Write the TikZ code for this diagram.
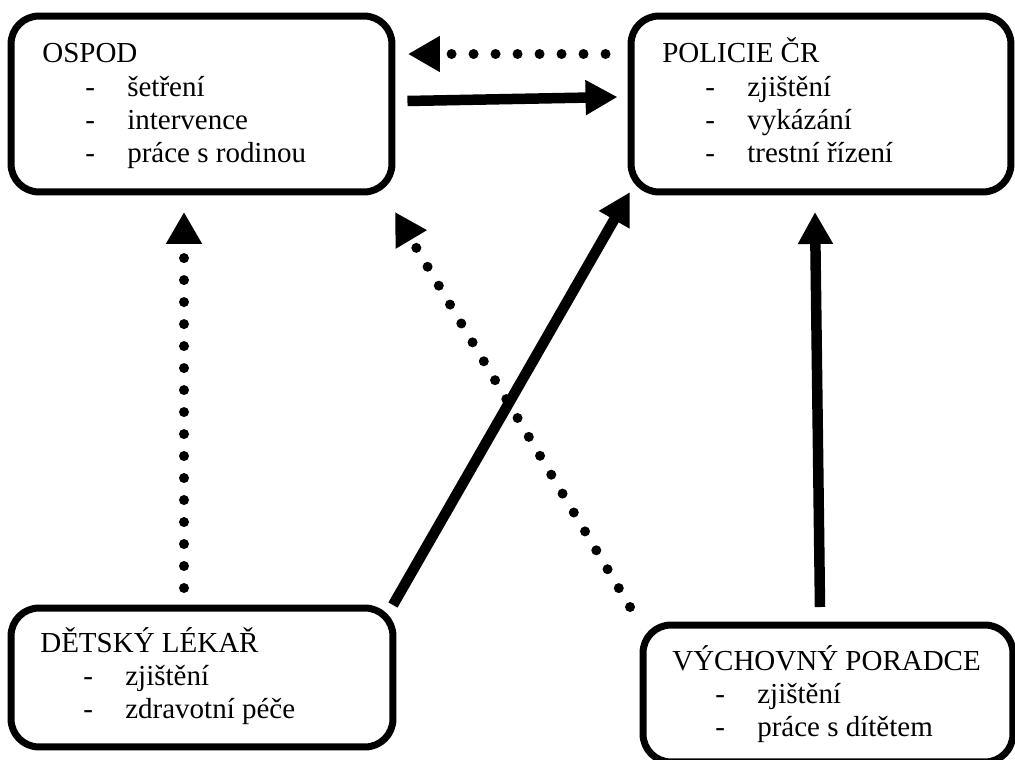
\documentclass[tikz,border=0pt]{standalone}
\usepackage{fontspec}
\setmainfont{Liberation Serif}
\usetikzlibrary{arrows.meta,positioning}

\newcommand{\polozka}[1]{\hspace*{0.86cm}\makebox[0.84cm][l]{-}#1}

\tikzset{
  box/.style={draw, line width=0.14cm, rounded corners=0.56cm, inner sep=0pt},
  popis/.style={anchor=base west, inner sep=0pt, font=\fontsize{16.5}{18.8}\selectfont},
  sipka/.style={line width=0.21cm, -{Triangle[length=0.64cm,width=0.66cm]}},
  tecky/.style={line width=0.2cm, line cap=round, dash pattern=on 0pt off 0.44cm,
    -{Triangle[length=0.64cm,width=0.68cm]}}
}

\begin{document}
\begin{tikzpicture}[x=0.02cm,y=-0.02cm]
    \useasboundingbox (0,0) rectangle (1015,760);
    \clip (0,0) rectangle (1015,760);
    % Boxes
    \node[box, minimum width=7.62cm, minimum height=3.52cm] (ospod) at (201.5,104) {};
    \node[box, minimum width=7.6cm, minimum height=3.52cm] (policie) at (821,104) {};
    \node[box, minimum width=7.64cm, minimum height=2.78cm] (lekar) at (202,677.5) {};
    \node[box, minimum width=7.4cm, minimum height=2.74cm] (poradce) at (828,693.5) {};
    % Texts
    \node[popis] (t_ospod) at (42,63) {\begin{tabular}[t]{@{}l@{}}OSPOD\\
        \polozka{šetření}\\ \polozka{intervence}\\ \polozka{práce s rodinou}\end{tabular}};
    \node[popis] (t_policie) at (662,63) {\begin{tabular}[t]{@{}l@{}}POLICIE ČR\\
        \polozka{zjištění}\\ \polozka{vykázání}\\ \polozka{trestní řízení}\end{tabular}};
    \node[popis] (t_lekar) at (40,652) {\begin{tabular}[t]{@{}l@{}}DĚTSKÝ LÉKAŘ\\
        \polozka{zjištění}\\ \polozka{zdravotní péče}\end{tabular}};
    \node[popis] (t_poradce) at (672,670) {\begin{tabular}[t]{@{}l@{}}VÝCHOVNÝ PORADCE\\
        \polozka{zjištění}\\ \polozka{práce s dítětem}\end{tabular}};
    % Arrows between the top boxes
    \draw[tecky] ([shift={(-22,-50)}]policie.west) -- ([shift={(12.5,-50)}]ospod.east);
    \draw[sipka] ([shift={(12,-3)}]ospod.east) -- ([shift={(-10,-7)}]policie.west);
    % Arrows from the bottom boxes
    \draw[tecky] ([shift={(-18,-16.5)}]lekar.north) -- ([shift={(-17.5,16.5)}]ospod.south);
    \draw[tecky] ([shift={(-9.5,-14.5)}]poradce.north west) -- ([shift={(-0.5,16.5)}]ospod.south east);
    \draw[sipka] ([shift={(-3.5,0.5)}]lekar.north east) -- ([shift={(2.5,-3.5)}]policie.south west);
    \draw[sipka] ([shift={(-8,-14.5)}]poradce.north) -- ([shift={(-6,16.5)}]policie.south);
\end{tikzpicture}
\end{document}
